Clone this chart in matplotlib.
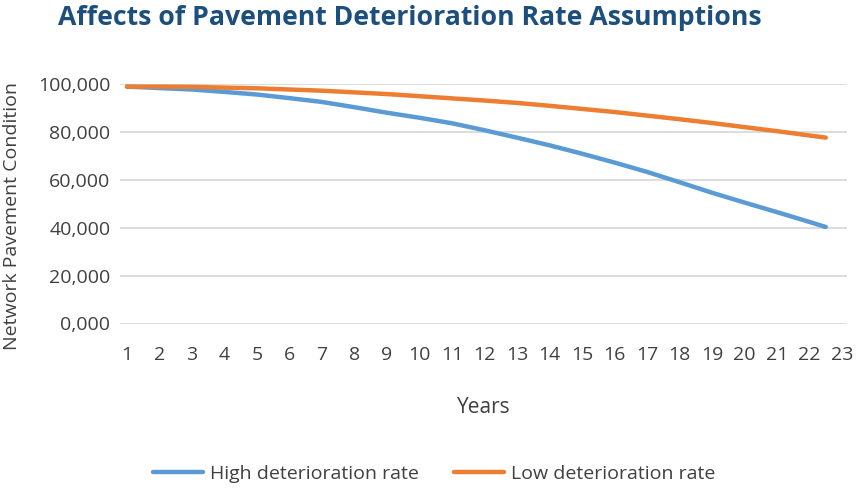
import numpy as np
import matplotlib
matplotlib.use("Agg")
import matplotlib.pyplot as plt

plt.rcParams['font.family'] = ['Open Sans', 'DejaVu Sans']

# values (network pavement condition)
years = [1, 2, 3, 4, 5, 6, 7, 8, 9, 10, 11, 12, 13, 14, 15, 16, 17, 18, 19, 20, 21, 22, 22.5]
high_rate = [98900, 98300, 97700, 96700, 95600, 94100, 92500, 90300, 88000, 85900, 83600, 80700,
             77600, 74400, 70900, 67200, 63300, 59000, 54600, 50500, 46500, 42400, 40300]
low_rate = [98900, 98900, 98800, 98500, 98200, 97700, 97200, 96500, 95800, 94900, 94000, 93100,
            92100, 90900, 89600, 88300, 86800, 85300, 83700, 82000, 80300, 78500, 77600]

x_ticks = list(range(1, 24))
y_ticks = [0, 20000, 40000, 60000, 80000, 100000]
y_labels = ['0,000', '20,000', '40,000', '60,000', '80,000', '100,000']

fig = plt.figure(figsize=(8.66, 4.88), dpi=100)
ax = fig.add_axes([120 / 866, 1 - 323.5 / 488, 727 / 866, 239.5 / 488])

txt = '#404040'
ax.plot(years, high_rate, color='#5b9bd5', lw=3.2, label='High deterioration rate',
        solid_capstyle='round', solid_joinstyle='round', clip_on=False, zorder=3)
ax.plot(years, low_rate, color='#ed7d31', lw=3.2, label='Low deterioration rate',
        solid_capstyle='round', solid_joinstyle='round', clip_on=False, zorder=3)

ax.set_xlim(1 - 7 / 32.5, 23 + 5 / 32.5)
ax.set_ylim(0, 100000)
ax.set_xticks(x_ticks)
ax.set_yticks(y_ticks)
ax.set_yticklabels(y_labels)
ax.grid(axis='y', color='#d9d9d9', lw=1.3)
ax.set_axisbelow(True)
for s in ax.spines.values():
    s.set_visible(False)
ax.tick_params(axis='both', length=0, labelsize=14, colors=txt)
ax.tick_params(axis='x', pad=16)
ax.tick_params(axis='y', pad=7)

ax.set_xlabel('Years', fontsize=15, color=txt, labelpad=24)
ax.set_ylabel('Network Pavement Condition', fontsize=14, color=txt, labelpad=12)
ax.yaxis.label.set_y(0.45)

fig.text(58 / 866, 1 - 18 / 488, 'Affects of Pavement Deterioration Rate Assumptions',
         fontsize=19.2, fontweight='bold', color='#1d4f7c', va='center', ha='left')

fig.legend(loc='center', bbox_to_anchor=(434 / 866, 1 - 474 / 488), ncol=2, frameon=False,
           fontsize=14, handlelength=2.6, columnspacing=1.8, handletextpad=0.35,
           labelcolor=txt)

fig.savefig('out.png', dpi=100)
